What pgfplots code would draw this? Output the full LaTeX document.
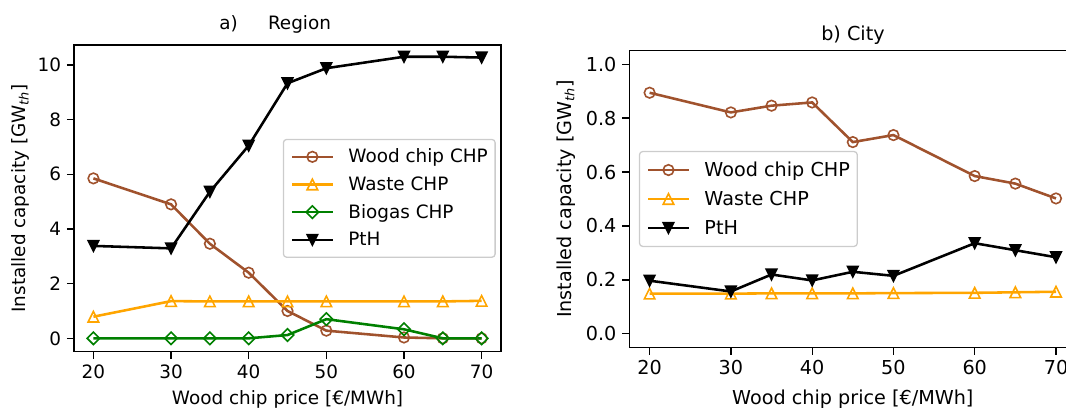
\documentclass[border=0pt]{standalone}
\usepackage{fontspec}
\setmainfont{DejaVu Sans}
\usepackage{pgfplots}
\pgfplotsset{compat=1.18}
\definecolor{cWood}{HTML}{A0522D}
\definecolor{cWaste}{HTML}{FFA500}
\definecolor{cBio}{HTML}{008000}
\definecolor{cFrame}{HTML}{CCCCCC}

% markers shaped like the matplotlib ones (o, ^, D, v)
\pgfdeclareplotmark{mo}{\pgfpathcircle{\pgfpointorigin}{\pgfplotmarksize}\pgfusepathqstroke}
\pgfdeclareplotmark{mup}{%
  \pgfpathmoveto{\pgfqpoint{0pt}{\pgfplotmarksize}}%
  \pgfpathlineto{\pgfqpoint{\pgfplotmarksize}{-\pgfplotmarksize}}%
  \pgfpathlineto{\pgfqpoint{-\pgfplotmarksize}{-\pgfplotmarksize}}%
  \pgfpathclose\pgfusepathqstroke}
\pgfdeclareplotmark{mdown}{%
  \pgfpathmoveto{\pgfqpoint{0pt}{-\pgfplotmarksize}}%
  \pgfpathlineto{\pgfqpoint{\pgfplotmarksize}{\pgfplotmarksize}}%
  \pgfpathlineto{\pgfqpoint{-\pgfplotmarksize}{\pgfplotmarksize}}%
  \pgfpathclose\pgfusepathqfillstroke}
\pgfdeclareplotmark{mdia}{%
  \pgfpathmoveto{\pgfqpoint{0pt}{1.18\pgfplotmarksize}}%
  \pgfpathlineto{\pgfqpoint{1.18\pgfplotmarksize}{0pt}}%
  \pgfpathlineto{\pgfqpoint{0pt}{-1.18\pgfplotmarksize}}%
  \pgfpathlineto{\pgfqpoint{-1.18\pgfplotmarksize}{0pt}}%
  \pgfpathclose\pgfusepathqstroke}

\pgfplotsset{
  panel/.style={
    scale only axis, anchor=south west,
    xmin=17.5, xmax=72.5, xtick={20,30,40,50,60,70},
    tick pos=left, tick align=outside,
    major tick length=4.5pt,
    every tick/.style={black, line width=0.8pt},
    axis line style={black, line width=0.8pt},
    /pgf/number format/assume math mode=true,
    xlabel={Wood chip price [€/MWh]},
    ylabel={Installed capacity [GW\textsubscript{\textit{th}}]},
    legend cell align=left,
    legend image code/.code={\draw[mark repeat=2,mark phase=2]
      plot coordinates {(0pt,0pt)(12.7pt,0pt)(25.4pt,0pt)};},
    legend style={draw=cFrame, fill=white, line width=0.8pt, rounded corners=2pt,
      inner xsep=4.6pt, /tikz/every odd column/.append style={column sep=9pt}},
  },
  sWood/.style={cWood, line width=1.6pt, mark=mo, mark size=3.3pt, mark options={solid, line width=1pt}},
  sWaste/.style={cWaste, line width=1.6pt, mark=mup, mark size=3.3pt, mark options={solid, line width=1pt}},
  sBio/.style={cBio, line width=1.6pt, mark=mdia, mark size=3.3pt, mark options={solid, line width=1pt}},
  sPtH/.style={black, line width=1.6pt, mark=mdown, mark size=3.3pt, mark options={solid, line width=1pt, fill=black}},
}

\begin{document}
\begin{tikzpicture}
% a) Region
\begin{axis}[panel,
  at={(46.25pt,35.81pt)}, width=266.9pt, height=191.7pt,
  font=\fontsize{11.5}{13.8}\selectfont,
  ymin=-0.49, ymax=10.73, ytick={0,2,4,6,8,10},
  xlabel style={at={(axis description cs:0.5,-0.1705)}, anchor=base},
  ylabel style={at={(axis description cs:-0.1253,0.5)}, anchor=center},
  legend style={at={(1,0.5)}, anchor=east, xshift=-3.3pt, inner ysep=2.2pt,
    font=\fontsize{11.5}{13.8}\selectfont,
    nodes={inner sep=0pt, text height=12.4pt, text depth=4.9pt}},
]
\addplot[sWood] coordinates {(20,5.85)(30,4.90)(35,3.46)(40,2.40)(45,1.00)(50,0.28)(60,0.03)(65,0)(70,0)};
\addlegendentry{Wood chip CHP}
\addplot[sWaste] coordinates {(20,0.79)(30,1.36)(35,1.35)(40,1.35)(45,1.35)(50,1.35)(60,1.35)(65,1.35)(70,1.37)};
\addlegendentry{Waste CHP}
\addplot[sBio] coordinates {(20,0)(30,0)(35,0)(40,0)(45,0.12)(50,0.70)(60,0.33)(65,0)(70,0)};
\addlegendentry{Biogas CHP}
\addplot[sPtH] coordinates {(20,3.38)(30,3.29)(35,5.36)(40,7.05)(45,9.33)(50,9.88)(60,10.30)(65,10.30)(70,10.27)};
\addlegendentry{PtH}
\end{axis}

% b) City
\begin{axis}[panel,
  at={(393.3pt,38.56pt)}, width=279.4pt, height=185.4pt,
  font=\fontsize{12}{14.4}\selectfont,
  ymin=-0.05, ymax=1.05, ytick={0,0.2,0.4,0.6,0.8,1.0},
  yticklabel style={/pgf/number format/.cd, fixed, fixed zerofill, precision=1},
  xlabel style={at={(axis description cs:0.5,-0.1912)}, anchor=base},
  ylabel style={at={(axis description cs:-0.1416,0.5)}, anchor=center},
  legend style={at={(0,0.5)}, anchor=west, xshift=6pt, inner ysep=2.5pt,
    font=\fontsize{12}{14.4}\selectfont,
    nodes={inner sep=0pt, text height=12.95pt, text depth=5.15pt}},
]
\addplot[sWood] coordinates {(20,0.894)(30,0.821)(35,0.846)(40,0.858)(45,0.711)(50,0.737)(60,0.585)(65,0.557)(70,0.502)};
\addlegendentry{Wood chip CHP}
\addplot[sWaste] coordinates {(20,0.149)(30,0.149)(35,0.150)(40,0.150)(45,0.150)(50,0.151)(60,0.152)(65,0.154)(70,0.156)};
\addlegendentry{Waste CHP}
\addplot[sPtH] coordinates {(20,0.197)(30,0.157)(35,0.220)(40,0.198)(45,0.230)(50,0.215)(60,0.336)(65,0.310)(70,0.284)};
\addlegendentry{PtH}
\end{axis}

% panel titles
\node[anchor=base west, inner sep=0pt, font=\fontsize{11.5}{13.8}\selectfont] at (136.9pt,237.3pt) {a)};
\node[anchor=base west, inner sep=0pt, font=\fontsize{11.5}{13.8}\selectfont] at (167.3pt,237.3pt) {Region};
\node[anchor=base, inner sep=0pt, font=\fontsize{12}{14.4}\selectfont] at (533.1pt,230pt) {b) City};

\pgfresetboundingbox
\path[use as bounding box] (0pt,0pt) rectangle (666.25pt,255.625pt);
\end{tikzpicture}
\end{document}
